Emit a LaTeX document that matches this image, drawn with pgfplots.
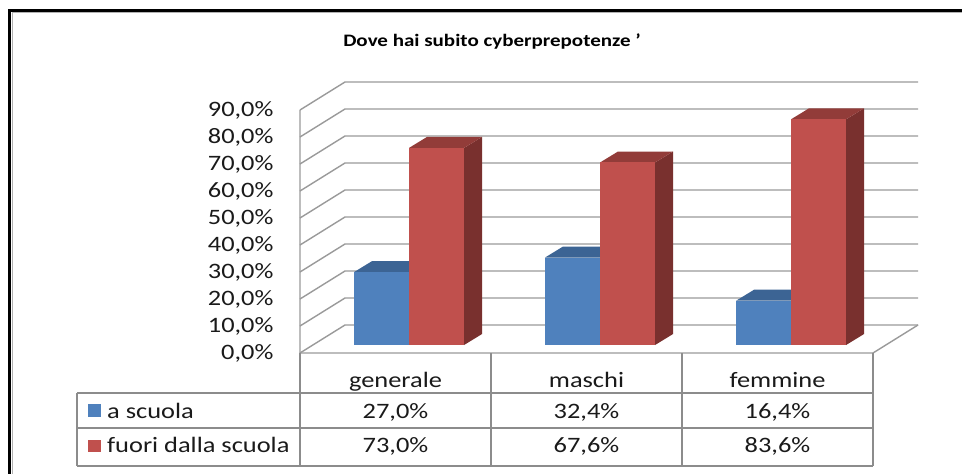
\documentclass[border=0pt]{standalone}
\usepackage{fontspec}
\setmainfont{Carlito}[FakeStretch=1.2]
\usepackage{pgfplots}
\pgfplotsset{compat=1.18}
\definecolor{bfront}{HTML}{4F81BD}
\definecolor{btop}{HTML}{3C6494}
\definecolor{rfront}{HTML}{C0504D}
\definecolor{rtop}{HTML}{923C39}
\definecolor{rside}{HTML}{79302E}
\definecolor{gridc}{HTML}{9A9A9A}
\definecolor{tabc}{HTML}{8C8C8C}
\definecolor{txt}{HTML}{1A1A1A}
\begin{document}
\begin{tikzpicture}
\useasboundingbox (0,0) rectangle (962pt,-474pt);
\fill[white] (0,0) rectangle (962pt,-474pt);
\begin{axis}[at={(300pt,-353pt)}, anchor=origin,
  x=191pt, y=2.7pt, xmin=0, xmax=3.2356, ymin=-45, ymax=101,
  clip=false, axis line style={draw=none}, xtick=\empty,
  ytick={0,10,...,90}, major tick length=0pt,
  /pgf/number format/assume math mode=true,
  yticklabel={\pgfmathprintnumber[fixed,fixed zerofill,precision=1,use comma]{\tick}\%},
  yticklabel style={anchor=east, xshift=-23pt, text=txt, font=\fontsize{22}{24}\selectfont},
]
% walls and gridlines
\addplot[draw=gridc, line width=1.4pt] coordinates {(0,0) (0.2356,10.37) (3.2356,10.37)};
\addplot[draw=gridc, line width=1.4pt] coordinates {(0,10) (0.2356,20.37) (3.2356,20.37)};
\addplot[draw=gridc, line width=1.4pt] coordinates {(0,20) (0.2356,30.37) (3.2356,30.37)};
\addplot[draw=gridc, line width=1.4pt] coordinates {(0,30) (0.2356,40.37) (3.2356,40.37)};
\addplot[draw=gridc, line width=1.4pt] coordinates {(0,40) (0.2356,50.37) (3.2356,50.37)};
\addplot[draw=gridc, line width=1.4pt] coordinates {(0,50) (0.2356,60.37) (3.2356,60.37)};
\addplot[draw=gridc, line width=1.4pt] coordinates {(0,60) (0.2356,70.37) (3.2356,70.37)};
\addplot[draw=gridc, line width=1.4pt] coordinates {(0,70) (0.2356,80.37) (3.2356,80.37)};
\addplot[draw=gridc, line width=1.4pt] coordinates {(0,80) (0.2356,90.37) (3.2356,90.37)};
\addplot[draw=gridc, line width=1.4pt] coordinates {(0,90) (0.2356,100.37) (3.2356,100.37)};
\addplot[draw=gridc, line width=1.4pt] coordinates {(0,90) (0,0) (3,0) (3.2356,10.37)};
% generale
\addplot[fill=btop, draw=none] coordinates {(0.283,29.96) (0.571,29.96) (0.665,34.03) (0.377,34.03)} -- cycle;
\addplot[fill=bfront, draw=none] coordinates {(0.283,2.96) (0.571,2.96) (0.571,29.96) (0.283,29.96)} -- cycle;
\addplot[fill=rside, draw=none] coordinates {(0.859,2.96) (0.953,7.03) (0.953,80.03) (0.859,75.96)} -- cycle;
\addplot[fill=rtop, draw=none] coordinates {(0.571,75.96) (0.859,75.96) (0.953,80.03) (0.665,80.03)} -- cycle;
\addplot[fill=rfront, draw=none] coordinates {(0.571,2.96) (0.859,2.96) (0.859,75.96) (0.571,75.96)} -- cycle;
% maschi
\addplot[fill=btop, draw=none] coordinates {(1.283,35.36) (1.571,35.36) (1.665,39.43) (1.377,39.43)} -- cycle;
\addplot[fill=bfront, draw=none] coordinates {(1.283,2.96) (1.571,2.96) (1.571,35.36) (1.283,35.36)} -- cycle;
\addplot[fill=rside, draw=none] coordinates {(1.859,2.96) (1.953,7.03) (1.953,74.63) (1.859,70.56)} -- cycle;
\addplot[fill=rtop, draw=none] coordinates {(1.571,70.56) (1.859,70.56) (1.953,74.63) (1.665,74.63)} -- cycle;
\addplot[fill=rfront, draw=none] coordinates {(1.571,2.96) (1.859,2.96) (1.859,70.56) (1.571,70.56)} -- cycle;
% femmine
\addplot[fill=btop, draw=none] coordinates {(2.283,19.36) (2.571,19.36) (2.665,23.43) (2.377,23.43)} -- cycle;
\addplot[fill=bfront, draw=none] coordinates {(2.283,2.96) (2.571,2.96) (2.571,19.36) (2.283,19.36)} -- cycle;
\addplot[fill=rside, draw=none] coordinates {(2.859,2.96) (2.953,7.03) (2.953,90.63) (2.859,86.56)} -- cycle;
\addplot[fill=rtop, draw=none] coordinates {(2.571,86.56) (2.859,86.56) (2.953,90.63) (2.665,90.63)} -- cycle;
\addplot[fill=rfront, draw=none] coordinates {(2.571,2.96) (2.859,2.96) (2.859,86.56) (2.571,86.56)} -- cycle;
% data table
\draw[tabc, line width=1.5pt] (axis cs:0,0) -- (axis cs:0,-41.85);
\draw[tabc, line width=1.5pt] (axis cs:1,0) -- (axis cs:1,-41.85);
\draw[tabc, line width=1.5pt] (axis cs:2,0) -- (axis cs:2,-41.85);
\draw[tabc, line width=1.5pt] (axis cs:3,0) -- (axis cs:3,-41.85);
\draw[tabc, line width=1.5pt] (axis cs:-1.1675,-14.81) -- (axis cs:3,-14.81);
\draw[tabc, line width=1.5pt] (axis cs:-1.1675,-27.78) -- (axis cs:3,-27.78);
\draw[tabc, line width=1.5pt] (axis cs:-1.1675,-41.85) -- (axis cs:3,-41.85);
\draw[tabc, line width=1.5pt] (axis cs:-1.1675,-14.81) -- (axis cs:-1.1675,-41.85);
\fill[bfront] (axis cs:-1.110,-18.89) rectangle (axis cs:-1.042,-23.70);
\fill[rfront] (axis cs:-1.110,-32.2) rectangle (axis cs:-1.042,-36.7);
\begin{scope}[every node/.style={font=\fontsize{22}{24}\selectfont, text=txt, inner sep=0pt}]
\node[anchor=base] at (axis cs:0.5,-12.96) {generale};
\node[anchor=base] at (axis cs:1.5,-12.96) {maschi};
\node[anchor=base] at (axis cs:2.5,-12.96) {femmine};
\node[anchor=base west] at (axis cs:-1.0105,-24.1) {a scuola};
\node[anchor=base west] at (axis cs:-1.0105,-37.0) {fuori dalla scuola};
\node[anchor=base] at (axis cs:0.5,-24.1) {27,0\%};
\node[anchor=base] at (axis cs:1.5,-24.1) {32,4\%};
\node[anchor=base] at (axis cs:2.5,-24.1) {16,4\%};
\node[anchor=base] at (axis cs:0.5,-37.0) {73,0\%};
\node[anchor=base] at (axis cs:1.5,-37.0) {67,6\%};
\node[anchor=base] at (axis cs:2.5,-37.0) {83,6\%};
\end{scope}
\end{axis}
\draw[black, line width=3pt] (9.5pt,-474pt) -- (9.5pt,-10pt) -- (962pt,-10pt);
\draw[gray!60, line width=1.5pt] (12.5pt,-474pt) -- (12.5pt,-12.5pt) -- (962pt,-12.5pt);
\node[font=\bfseries\fontsize{17.5}{20}\selectfont] at (492pt,-42pt) {Dove hai subito cyberprepotenze '};
\end{tikzpicture}
\end{document}
